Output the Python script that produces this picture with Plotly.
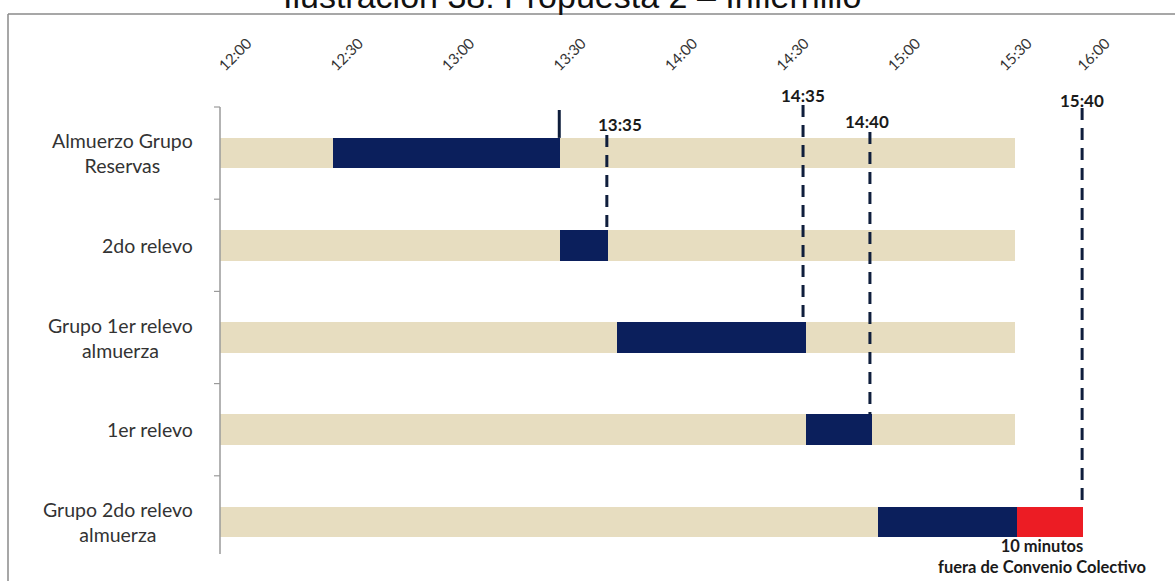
import plotly.graph_objects as go

# ---------------- data (minutes after 12:00, as drawn) ----------------
categories = ["Almuerzo Grupo\nReservas", "2do relevo", "Grupo 1er relevo\nalmuerza",
              "1er relevo", "Grupo 2do relevo\nalmuerza"]
shift_start = [0, 0, 0, 0, 0]
shift_end = [214, 214, 214, 214, 177]
lunch_start = [30.4, 91.5, 106.8, 157.7, 177.1]
lunch_end = [91.5, 104.4, 157.7, 175.5, 214.5]
overtime_rows = [4]
overtime_start = [214.5]
overtime_end = [232.2]
tick_minutes = [0, 30, 60, 90, 120, 150, 180, 210, 231]
tick_labels = ["12:00", "12:30", "13:00", "13:30", "14:00", "14:30", "15:00", "15:30", "16:00"]
marker_minutes = [104.1, 156.9, 174.9, 232.0]
marker_labels = ["13:35", "14:35", "14:40", "15:40"]
marker_rows = [1, 2, 3, 4]
solid_marker_minute = 91.3
note_text = "10 minutos<br>fuera de Convenio Colectivo"
title_text = "Ilustración 38: Propuesta 2 – Infiernillo"

# ---------------- layout geometry ----------------
W, H = 1175, 581
L, R, T, B = 220, 26, 107, 13
PW, PH = W - L - R, H - T - B
BAR_W = 0.33


def px_x(px):
    return (px - L) / PW


def px_y(py):
    return 1 - (py - T) / PH


def row_top_paper(i):
    # reversed axis: range [4.5, -0.5]
    return 1 - ((i - BAR_W / 2) + 0.5) / 5


NAVY = "#0B1F5C"
BEIGE = "#E7DDC0"
RED = "#EC1C24"
LINE = "#0F1E3C"
AXIS = "#9a9a9a"

fig = go.Figure()
rows = list(range(len(categories)))
fig.add_trace(go.Bar(y=rows, base=shift_start,
                     x=[e - s for s, e in zip(shift_start, shift_end)],
                     orientation="h", width=BAR_W, marker=dict(color=BEIGE, line=dict(width=0)),
                     hoverinfo="skip"))
fig.add_trace(go.Bar(y=rows, base=lunch_start,
                     x=[e - s for s, e in zip(lunch_start, lunch_end)],
                     orientation="h", width=BAR_W, marker=dict(color=NAVY, line=dict(width=0)),
                     hoverinfo="skip"))
fig.add_trace(go.Bar(y=overtime_rows, base=overtime_start,
                     x=[e - s for s, e in zip(overtime_start, overtime_end)],
                     orientation="h", width=BAR_W, marker=dict(color=RED, line=dict(width=0)),
                     hoverinfo="skip"))

shapes = []
annotations = []

# dashed marker lines and their labels
line_tops_px = [135, 105, 132, 108]
label_y_px = [125, 96, 122, 100]
label_xshift = [13, 0, -3, 0]
for m, lab, r, top, ly, xs in zip(marker_minutes, marker_labels, marker_rows,
                                  line_tops_px, label_y_px, label_xshift):
    shapes.append(dict(type="line", xref="x", yref="paper", x0=m, x1=m,
                       y0=px_y(top), y1=row_top_paper(r),
                       line=dict(color=LINE, width=3, dash="12px,8px")))
    annotations.append(dict(x=m, xref="x", y=px_y(ly), yref="paper", text="<b>" + lab + "</b>",
                            showarrow=False, xanchor="center", yanchor="middle", xshift=xs,
                            font=dict(family="Lato", size=17, color="#1a1a1a")))

# short solid line at end of first lunch block
shapes.append(dict(type="line", xref="x", yref="paper", x0=solid_marker_minute, x1=solid_marker_minute,
                   y0=px_y(110), y1=row_top_paper(0), line=dict(color=LINE, width=3)))

# category labels (right-anchored block, centered lines)
for i, c in enumerate(categories):
    center = T + (i + 0.5) * PH / 5
    annotations.append(dict(x=px_x(195), xref="paper", y=px_y(center), yref="paper",
                            text=c.replace("\n", "<br>"), showarrow=False,
                            xanchor="right", yanchor="middle", align="center",
                            font=dict(family="Lato", size=19.5, color="#333333")))

# note under the red block
annotations.append(dict(x=px_x(1042), xref="paper", y=px_y(556), yref="paper", text="<b>" + note_text + "</b>",
                        showarrow=False, xanchor="center", yanchor="middle", align="center",
                        font=dict(family="Lato", size=16.5, color="#1a1a1a")))

# y axis line and boundary ticks drawn as shapes
shapes.append(dict(type="line", xref="paper", yref="paper", x0=0, x1=0,
                   y0=px_y(107), y1=px_y(554), line=dict(color=AXIS, width=1.5)))
for k in range(5):
    yb = T + k * PH / 5
    shapes.append(dict(type="line", xref="paper", yref="paper", x0=px_x(214), x1=0,
                       y0=px_y(yb), y1=px_y(yb), line=dict(color=AXIS, width=1.2)))

# title (cut off at top, as in the source document) and frame
annotations.append(dict(x=px_x(572), xref="paper", y=px_y(17), yref="paper", text=title_text,
                        showarrow=False, xanchor="center", yanchor="bottom",
                        font=dict(family="Liberation Sans", size=34, color="#111111")))
shapes.append(dict(type="line", xref="paper", yref="paper", x0=px_x(8), x1=px_x(1180),
                   y0=px_y(14), y1=px_y(14), line=dict(color="#8a8a8a", width=1.5)))
shapes.append(dict(type="line", xref="paper", yref="paper", x0=px_x(8), x1=px_x(8),
                   y0=px_y(14), y1=px_y(590), line=dict(color="#8a8a8a", width=1.5)))

fig.update_layout(
    width=W, height=H, margin=dict(l=L, r=R, t=T, b=B),
    paper_bgcolor="white", plot_bgcolor="white",
    barmode="overlay", showlegend=False, bargap=0,
    shapes=shapes, annotations=annotations,
    xaxis=dict(side="top", range=[0, 250], tickvals=tick_minutes, ticktext=tick_labels,
               tickangle=-45, ticks="outside", ticklen=26, tickcolor="rgba(0,0,0,0)",
               showgrid=False, zeroline=False, showline=False,
               tickfont=dict(family="Lato", size=15, color="#333333")),
    yaxis=dict(range=[4.5, -0.5], showticklabels=False, ticks="",
               showgrid=False, zeroline=False, showline=False),
)

fig.write_html("out.html")
